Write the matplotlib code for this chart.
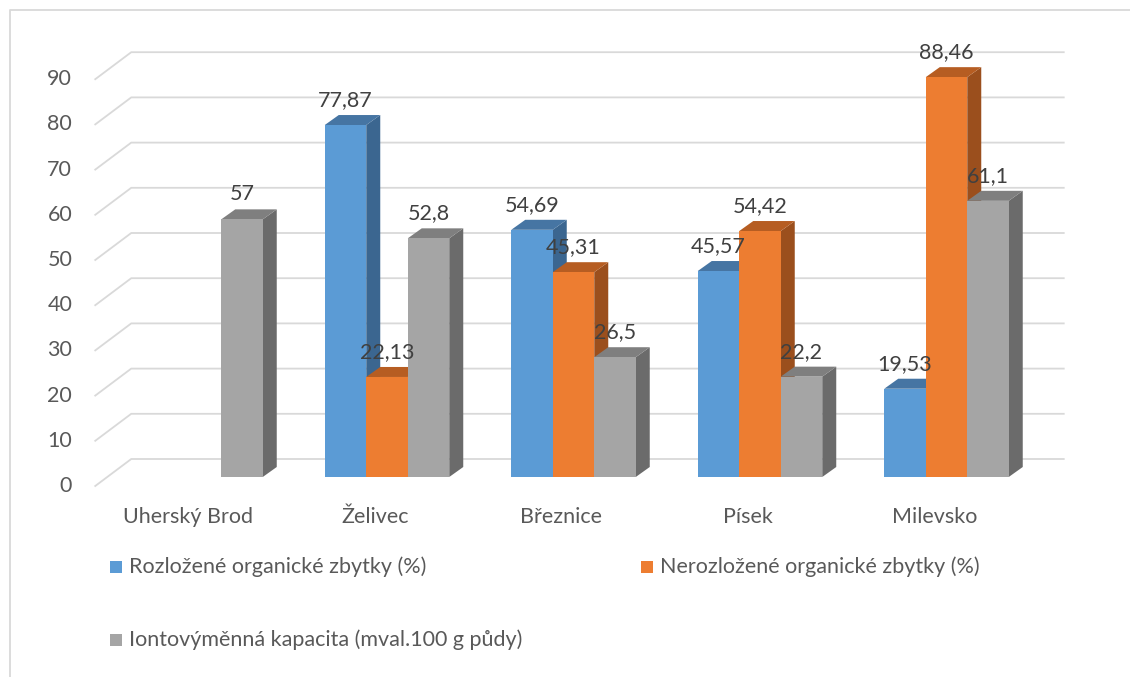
import matplotlib
matplotlib.use("Agg")
import matplotlib.pyplot as plt
from matplotlib.patches import Polygon, Rectangle
from matplotlib.lines import Line2D

# ---- data -------------------------------------------------------------
categories = ["Uherský Brod", "Želivec", "Březnice", "Písek", "Milevsko"]
series_names = [
    "Rozložené organické zbytky (%)",
    "Nerozložené organické zbytky (%)",
    "Iontovýměnná kapacita (mval.100 g půdy)",
]
rozlozene = [None, 77.87, 54.69, 45.57, 19.53]
nerozlozene = [None, 22.13, 45.31, 54.42, 88.46]
kapacita = [57, 52.8, 26.5, 22.2, 61.1]
value_ticks = [0, 10, 20, 30, 40, 50, 60, 70, 80, 90]

# ---- styling ----------------------------------------------------------
FONT = "Lato"
FS = 15.5
front_colors = ["#5B9BD5", "#ED7D31", "#A5A5A5"]
top_colors = ["#4675A3", "#B65D22", "#7F7F7F"]
side_colors = ["#3B6690", "#9B4F1D", "#6B6B6B"]
GRID = "#D9D9D9"
TXT = "#595959"
LBL = "#404040"

W, H, DPI = 1130, 677, 100
fig = plt.figure(figsize=(W / DPI, H / DPI), dpi=DPI)
ax = fig.add_axes([0, 0, 1, 1])
ax.set_axis_off()

# category units horizontally, value units vertically (bar front plane)
PX_PER_CAT = 186.5
PX_PER_VAL = 4.52
X0_PX, Y0_PX = 200.5, 477.0           # first category centre, value 0
ax.set_xlim(-X0_PX / PX_PER_CAT, (W - X0_PX) / PX_PER_CAT)
ax.set_ylim((Y0_PX - H) / PX_PER_VAL, Y0_PX / PX_PER_VAL)

# oblique depth offsets (display pixels, y up)
BAR_BACK = (14, 10)
FLOOR_FRONT = (-12, -9)
BACK_WALL = (24, 18)
BAR_W = 0.2225


def shift(x, y, d):
    X, Y = ax.transData.transform((x, y))
    return tuple(ax.transData.inverted().transform((X + d[0], Y + d[1])))


fig.canvas.draw()

# ---- back wall gridlines and side-wall diagonals -----------------------
x_left, x_right = -0.5, len(categories) - 0.5
for v in value_ticks:
    p_back_l = shift(x_left, v, BACK_WALL)
    p_back_r = shift(x_right, v, BACK_WALL)
    p_front = shift(x_left, v, FLOOR_FRONT)
    ax.add_line(Line2D([p_front[0], p_back_l[0], p_back_r[0]],
                       [p_front[1], p_back_l[1], p_back_r[1]],
                       color=GRID, lw=1.3, zorder=1, solid_joinstyle="miter"))
    tx, ty = shift(x_left, v, (FLOOR_FRONT[0] - 23, FLOOR_FRONT[1]))
    ax.text(tx, ty, str(v), ha="right", va="center", fontsize=FS,
            color=TXT, family=FONT)

# ---- 3D bars -----------------------------------------------------------
series = [rozlozene, nerozlozene, kapacita]
z = 2
labels = []
for i, cat in enumerate(categories):
    for s, vals in enumerate(series):
        v = vals[i]
        if v is None:
            continue
        xl = i + (s - 1) * BAR_W - BAR_W / 2
        xr = xl + BAR_W
        # right side face
        side = [(xr, 0), shift(xr, 0, BAR_BACK), shift(xr, v, BAR_BACK), (xr, v)]
        ax.add_patch(Polygon(side, closed=True, fc=side_colors[s], ec="none", zorder=z))
        # top face
        top = [(xl, v), (xr, v), shift(xr, v, BAR_BACK), shift(xl, v, BAR_BACK)]
        ax.add_patch(Polygon(top, closed=True, fc=top_colors[s], ec="none", zorder=z))
        # front face
        ax.add_patch(Rectangle((xl, 0), BAR_W, v, fc=front_colors[s], ec="none", zorder=z + 0.5))
        z += 1
        labels.append((i + (s - 1) * BAR_W, v))

for x, v in labels:
    ax.annotate(f"{v:g}".replace(".", ","), (x, v), xytext=(0, 18),
                textcoords="offset points", ha="center", va="center",
                fontsize=FS, color=LBL, family=FONT, zorder=100)

# ---- category labels ---------------------------------------------------
for i, cat in enumerate(categories):
    cx, cy = shift(i, 0, (FLOOR_FRONT[0], FLOOR_FRONT[1] - 31))
    ax.text(cx, cy, cat, ha="center", va="center", fontsize=FS,
            color=TXT, family=FONT)

# ---- legend ------------------------------------------------------------
legend_pos = [(110, 567), (641, 567), (110, 640)]
for (lx, ly), name, col in zip(legend_pos, series_names, front_colors):
    fig.add_artist(Rectangle((lx / W, 1 - (ly + 6) / H), 12 / W, 12 / H,
                             transform=fig.transFigure, fc=col, ec="none"))
    fig.text((lx + 19) / W, 1 - ly / H, name, ha="left", va="center",
             fontsize=FS, color=TXT, family=FONT)

# ---- chart border ------------------------------------------------------
fig.add_artist(Line2D([10 / W, 10 / W, 1], [0, 1 - 10 / H, 1 - 10 / H],
                      transform=fig.transFigure, color=GRID, lw=1.3))

fig.savefig("out.png", dpi=DPI, facecolor="white")
